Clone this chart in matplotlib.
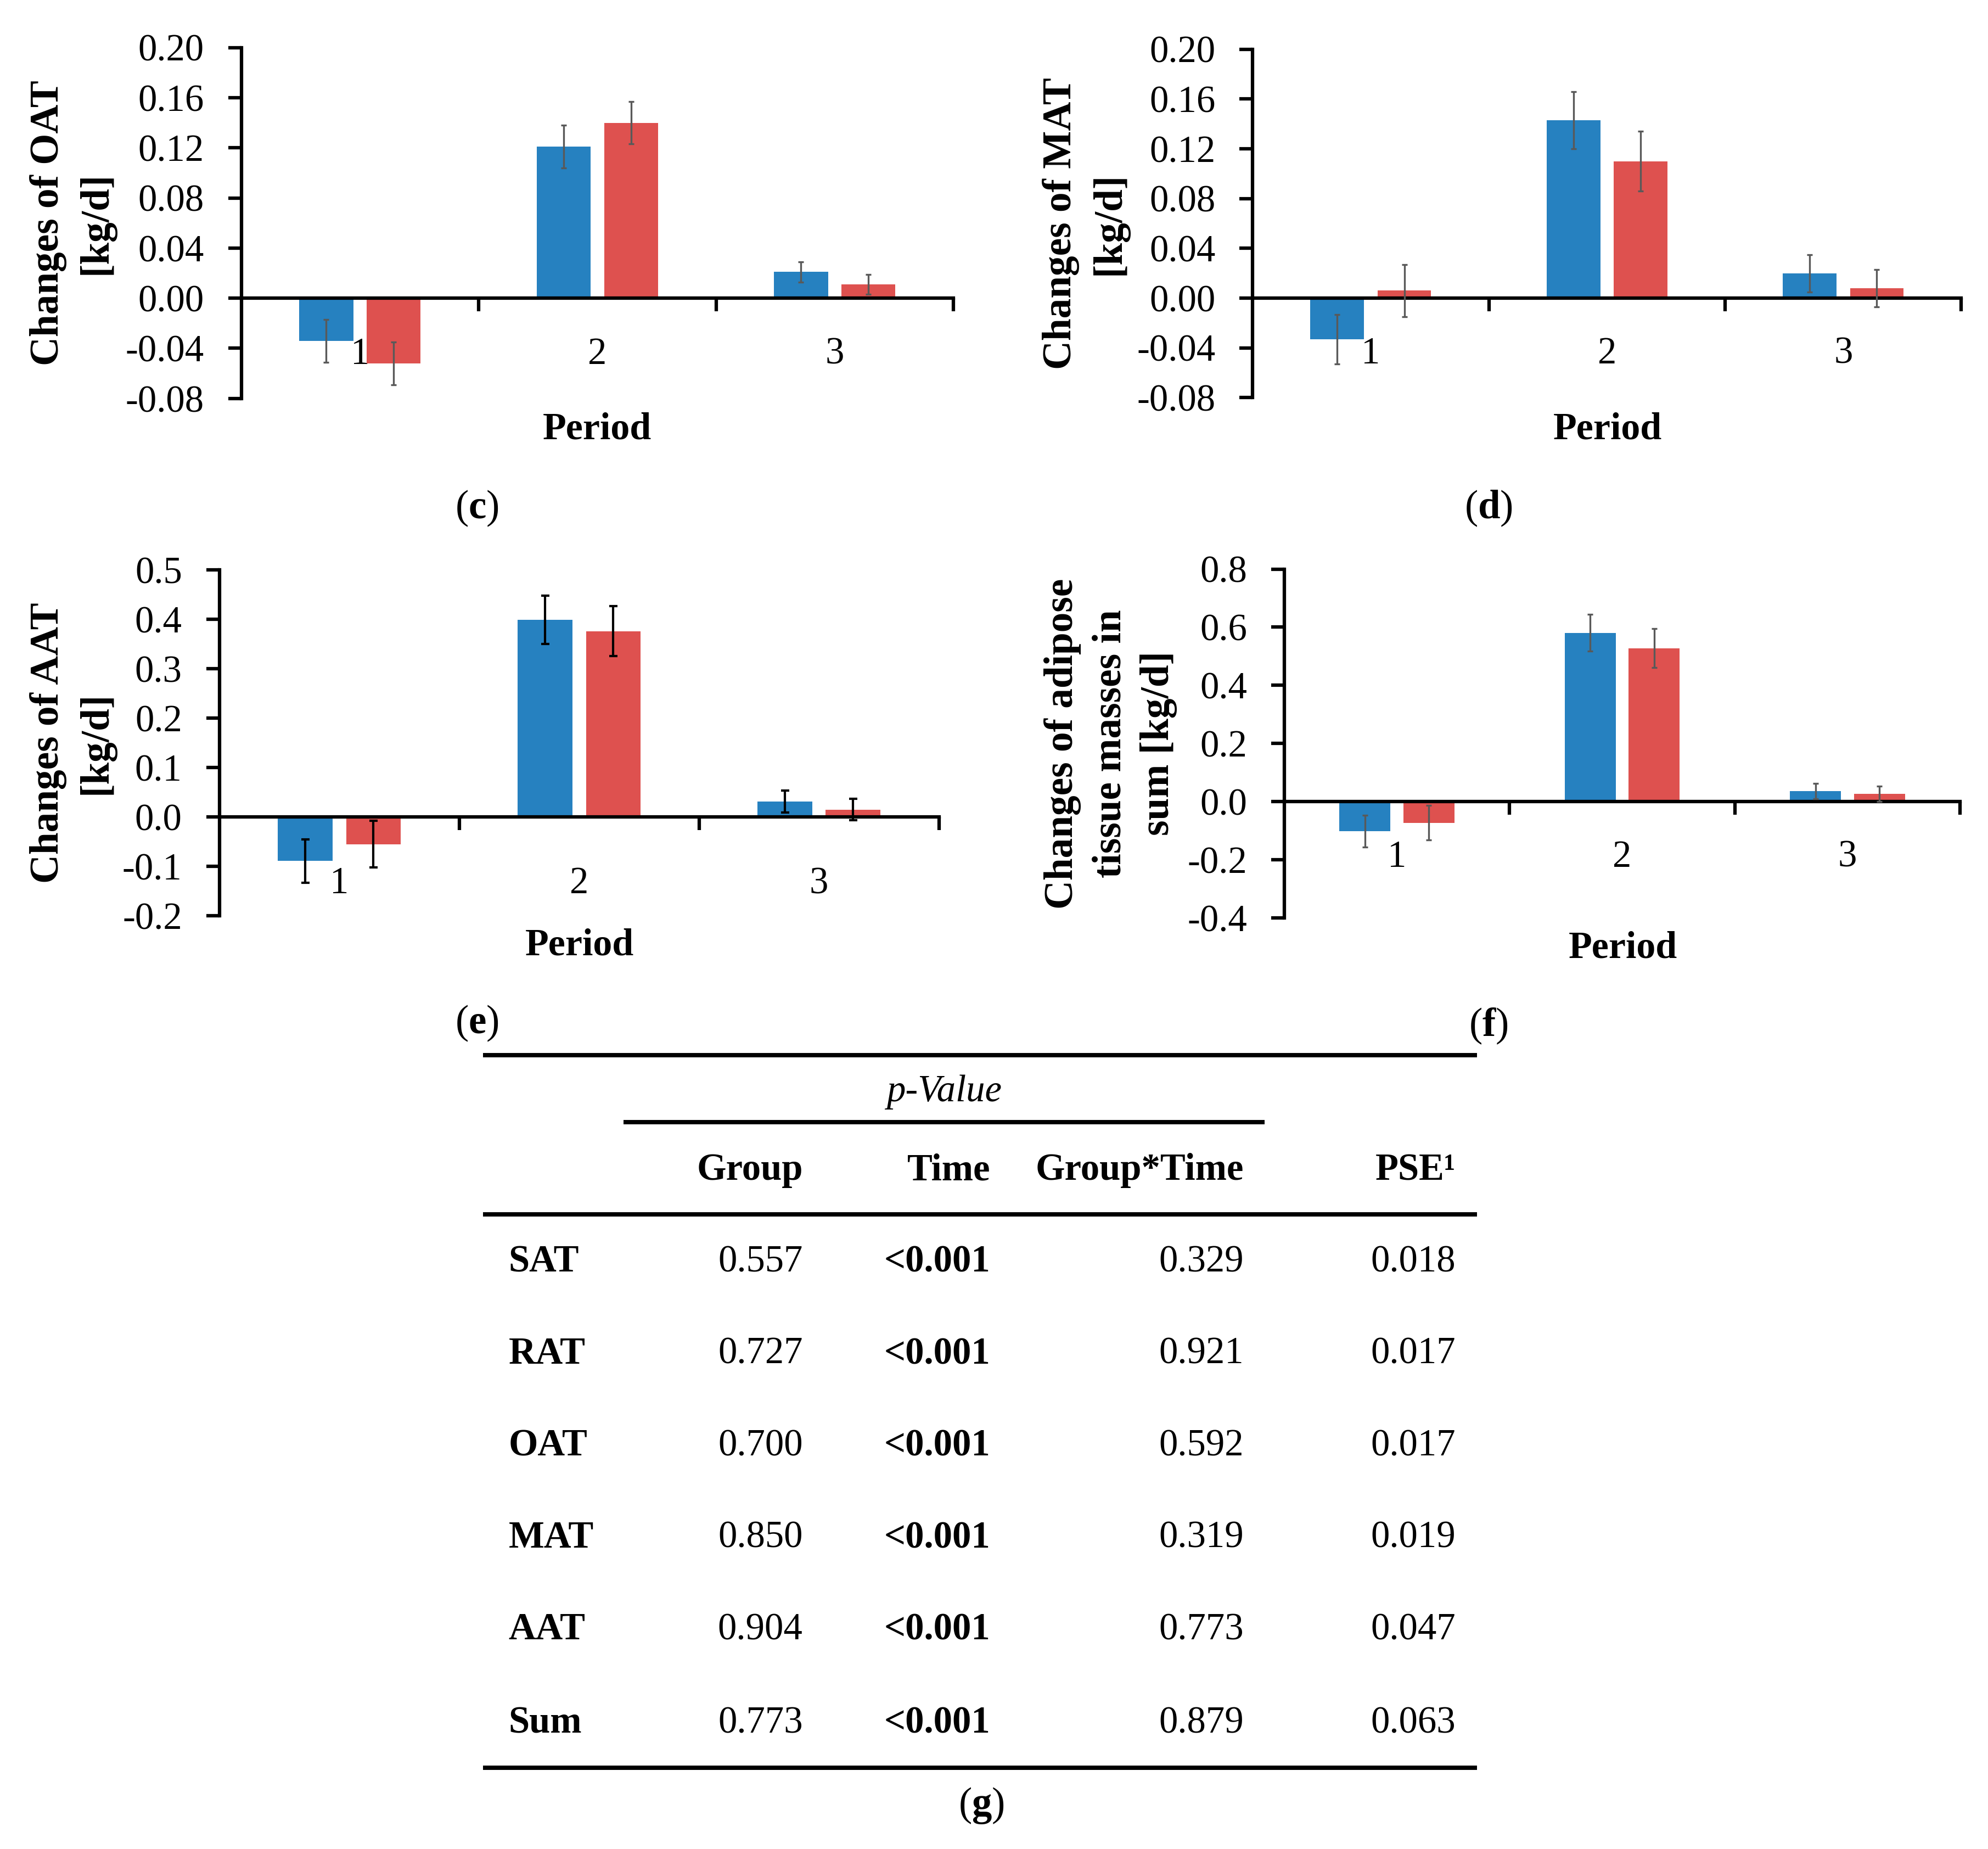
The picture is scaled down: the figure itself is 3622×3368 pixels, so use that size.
import matplotlib
matplotlib.use("Agg")
import matplotlib.pyplot as plt
import numpy as np
from matplotlib.lines import Line2D

plt.rcParams['font.family'] = ['Liberation Serif', 'DejaVu Serif']
plt.rcParams['axes.unicode_minus'] = False
plt.rcParams['mathtext.fontset'] = 'custom'
plt.rcParams['mathtext.rm'] = 'Liberation Serif'
plt.rcParams['mathtext.bf'] = 'Liberation Serif:bold'

# ---------------- data ----------------
periods = ['1', '2', '3']

oat_g1 = [-0.034, 0.121, 0.021]
oat_g1_err = [0.017, 0.017, 0.008]
oat_g2 = [-0.052, 0.140, 0.011]
oat_g2_err = [0.017, 0.017, 0.008]

mat_g1 = [-0.033, 0.143, 0.020]
mat_g1_err = [0.020, 0.023, 0.015]
mat_g2 = [0.006, 0.110, 0.008]
mat_g2_err = [0.021, 0.024, 0.015]

aat_g1 = [-0.089, 0.399, 0.031]
aat_g1_err = [0.044, 0.049, 0.022]
aat_g2 = [-0.055, 0.376, 0.015]
aat_g2_err = [0.047, 0.051, 0.022]

sum_g1 = [-0.101, 0.581, 0.037]
sum_g1_err = [0.055, 0.064, 0.027]
sum_g2 = [-0.072, 0.528, 0.027]
sum_g2_err = [0.060, 0.067, 0.027]

small_ticks = [-0.08, -0.04, 0.00, 0.04, 0.08, 0.12, 0.16, 0.20]
small_ticklabels = ['-0.08', '-0.04', '0.00', '0.04', '0.08', '0.12', '0.16', '0.20']
aat_ticks = [-0.2, -0.1, 0.0, 0.1, 0.2, 0.3, 0.4, 0.5]
aat_ticklabels = ['-0.2', '-0.1', '0.0', '0.1', '0.2', '0.3', '0.4', '0.5']
sum_ticks = [-0.4, -0.2, 0.0, 0.2, 0.4, 0.6, 0.8]
sum_ticklabels = ['-0.4', '-0.2', '0.0', '0.2', '0.4', '0.6', '0.8']

ylabel_oat = 'Changes of OAT\n[kg/d]'
ylabel_mat = 'Changes of MAT\n[kg/d]'
ylabel_aat = 'Changes of AAT\n[kg/d]'
ylabel_sum = 'Changes of adipose\ntissue masses in\nsum [kg/d]'
xlabel = 'Period'

table_rows = ['SAT', 'RAT', 'OAT', 'MAT', 'AAT', 'Sum']
table_header = ['Group', 'Time', 'Group*Time', 'PSE\u00b9']
p_group = ['0.557', '0.727', '0.700', '0.850', '0.904', '0.773']
p_time = ['<0.001', '<0.001', '<0.001', '<0.001', '<0.001', '<0.001']
p_interaction = ['0.329', '0.921', '0.592', '0.319', '0.773', '0.879']
pse = ['0.018', '0.017', '0.017', '0.019', '0.047', '0.063']

# ---------------- styling ----------------
BLUE = '#2681C0'
RED = '#DE514F'
W, H = 1568.0, 1458.0   # reference layout units


def fx(x):
    return x / W


def fy(y):
    return 1 - y / H


fig = plt.figure(figsize=(3622 / 300, 3368 / 300), dpi=300)
fig.patch.set_facecolor('white')

BAR_W = 0.227
OFF = 0.142
TICK_FS = 16.5
LAB_FS = 17.6
SPW = 1.5


def panel(box, g1, e1, g2, e2, ticks, ticklabels, ecolor, capsize, elw,
          cat_y, ylab, ylab_x, xlab_xy, letter, letter_xy):
    l, r, t, b = box
    ax = fig.add_axes([fx(l), fy(b), fx(r) - fx(l), fy(t) - fy(b)])
    x = np.arange(len(periods))
    ax.bar(x - OFF, g1, BAR_W, color=BLUE, zorder=2)
    ax.bar(x + OFF, g2, BAR_W, color=RED, zorder=2)
    ax.errorbar(x - OFF, g1, yerr=e1, fmt='none', ecolor=ecolor,
                elinewidth=elw, capsize=capsize, capthick=elw, zorder=4)
    ax.errorbar(x + OFF, g2, yerr=e2, fmt='none', ecolor=ecolor,
                elinewidth=elw, capsize=capsize, capthick=elw, zorder=4)
    ax.set_xlim(-0.5, 2.5)
    ax.set_ylim(ticks[0], ticks[-1])
    for s in ['top', 'right']:
        ax.spines[s].set_visible(False)
    ax.spines['bottom'].set_position(('data', 0))
    ax.spines['bottom'].set_linewidth(SPW)
    ax.spines['left'].set_linewidth(SPW)
    ax.spines['bottom'].set_zorder(3)
    ax.set_xticks([0.5, 1.5, 2.5])
    ax.set_xticklabels([])
    ax.tick_params(axis='x', direction='out', length=5.8, width=SPW)
    ax.set_yticks(ticks)
    ax.set_yticklabels(ticklabels)
    ax.tick_params(axis='y', direction='out', length=5.8, width=SPW,
                   pad=10.5, labelsize=TICK_FS)
    ax.patch.set_alpha(0)
    for i, p in enumerate(periods):
        ax.text(i, cat_y, p, transform=ax.get_xaxis_transform(),
                ha='center', va='center', fontsize=TICK_FS, zorder=1)
    fig.text(fx(ylab_x), fy((t + b) / 2), ylab, rotation=90, ha='center',
             va='center', multialignment='center', fontsize=LAB_FS,
             fontweight='bold', linespacing=1.38)
    fig.text(fx(xlab_xy[0]), fy(xlab_xy[1]), xlabel, ha='center', va='center',
             fontsize=16.8, fontweight='bold')
    fig.text(fx(letter_xy[0]), fy(letter_xy[1]), '($\\mathbf{%s}$)' % letter,
             ha='center', va='center', fontsize=17.5)
    return ax


GREY = '#595959'
panel((190.3, 752.0, 37.5, 314.2), oat_g1, oat_g1_err, oat_g2, oat_g2_err,
      small_ticks, small_ticklabels, GREY, 1.3, 0.8, 0.125, ylabel_oat, 57,
      (471, 338.6), 'c', (376, 401))
panel((988.0, 1547.0, 38.8, 313.6), mat_g1, mat_g1_err, mat_g2, mat_g2_err,
      small_ticks, small_ticklabels, GREY, 1.3, 0.8, 0.125, ylabel_mat, 856,
      (1268, 338.6), 'd', (1174, 401))
panel((173.0, 740.5, 449.3, 722.2), aat_g1, aat_g1_err, aat_g2, aat_g2_err,
      aat_ticks, aat_ticklabels, 'black', 1.8, 1.0, 0.092, ylabel_aat, 57,
      (457, 745.8), 'e', (376, 807))
panel((1013.0, 1546.0, 448.7, 724.0), sum_g1, sum_g1_err, sum_g2, sum_g2_err,
      sum_ticks, sum_ticklabels, GREY, 1.3, 0.8, 0.174, ylabel_sum, 876,
      (1280, 748), 'f', (1174, 809))

# ---------------- table (g) ----------------
TLW = 1.9
TFS = 16.5


def hline(x0, x1, y):
    fig.add_artist(Line2D([fx(x0), fx(x1)], [fy(y), fy(y)], color='black',
                          linewidth=TLW, transform=fig.transFigure,
                          solid_capstyle='butt'))


hline(381, 1165, 832)
hline(491.6, 997.5, 885)
hline(381, 1165, 957.4)
hline(381, 1165, 1394)

fig.text(fx(744.6), fy(861), 'p-Value', ha='center', va='center',
         fontsize=TFS, style='italic')

col_right = [633.2, 781.2, 981.0, 1148.2]
for xr, h in zip(col_right, table_header):
    fig.text(fx(xr), fy(923), h, ha='right', va='center', fontsize=TFS,
             fontweight='bold')

row_y = [995.5, 1068, 1140.5, 1213, 1285.4, 1359]
for i, yy in enumerate(row_y):
    fig.text(fx(401.2), fy(yy), table_rows[i], ha='left', va='center',
             fontsize=TFS, fontweight='bold')
    fig.text(fx(col_right[0]), fy(yy), p_group[i], ha='right', va='center',
             fontsize=TFS)
    fig.text(fx(col_right[1]), fy(yy), p_time[i], ha='right', va='center',
             fontsize=TFS, fontweight='bold')
    fig.text(fx(col_right[2]), fy(yy), p_interaction[i], ha='right',
             va='center', fontsize=TFS)
    fig.text(fx(col_right[3]), fy(yy), pse[i], ha='right', va='center',
             fontsize=TFS)

fig.text(fx(774), fy(1424), '($\\mathbf{g}$)', ha='center', va='center',
         fontsize=17.5)

fig.savefig('out.png', dpi=300, facecolor='white')
